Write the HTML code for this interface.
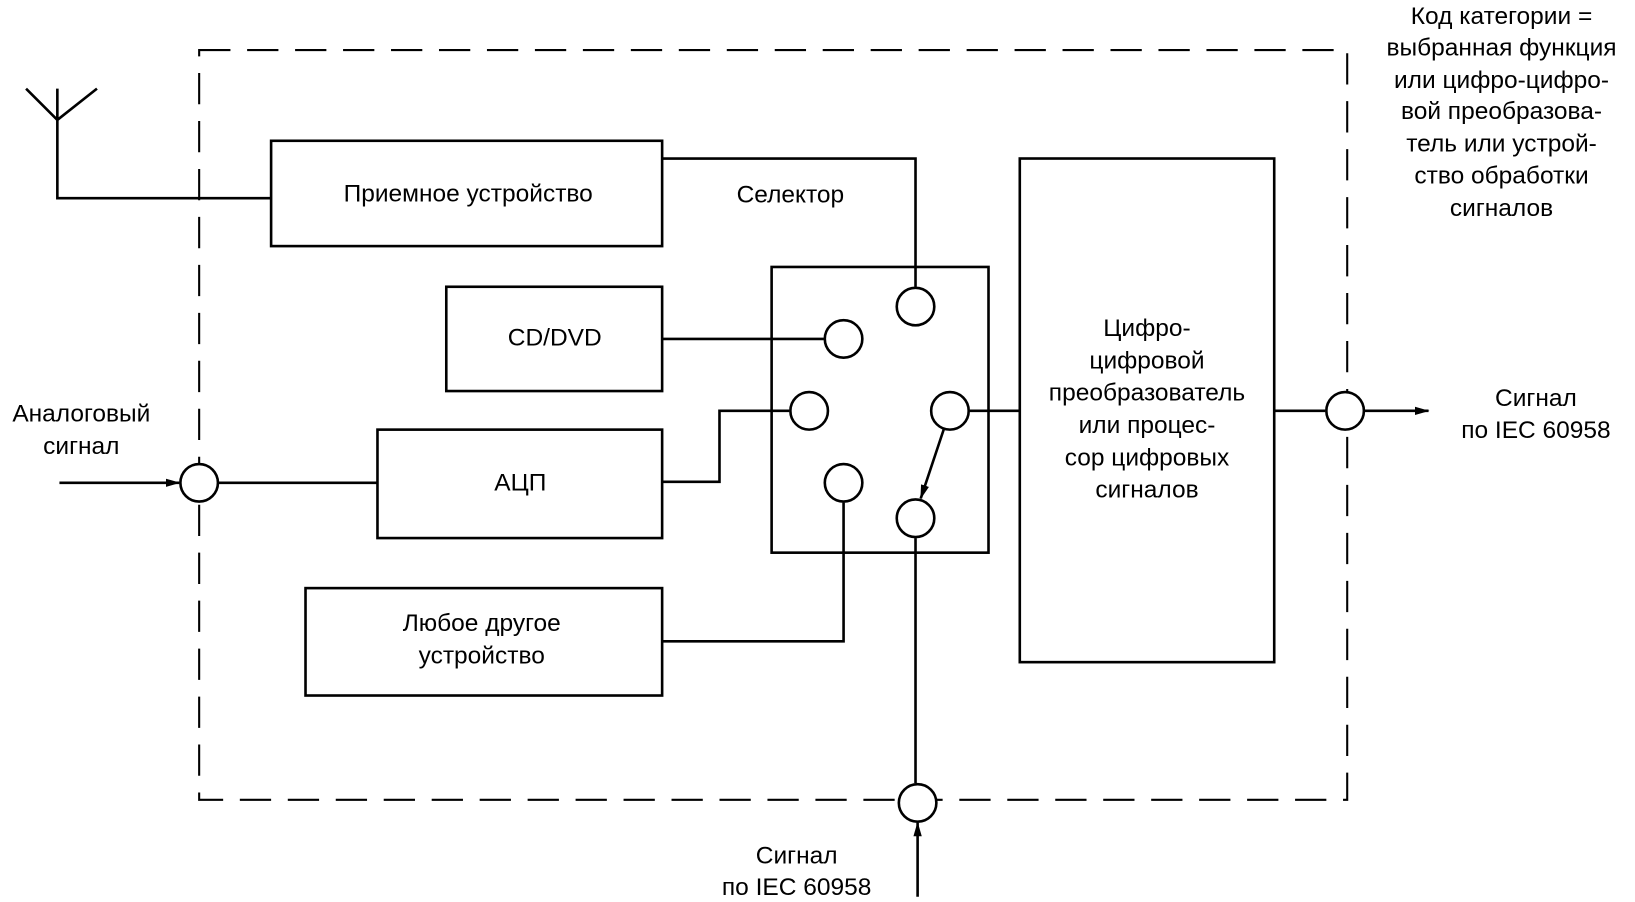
<!DOCTYPE html>
<html><head><meta charset="utf-8"><style>
html,body{margin:0;padding:0;background:#fff;}
svg{display:block;}
text{font-family:"Liberation Sans",sans-serif;font-size:23.5px;fill:#000;text-anchor:middle;dominant-baseline:middle;}
</style></head><body>
<svg width="1635" height="902" viewBox="0 0 1568 865" xmlns="http://www.w3.org/2000/svg">
<defs><marker id="a" markerWidth="14" markerHeight="10" refX="13" refY="5" orient="auto" markerUnits="userSpaceOnUse"><path d="M0,1 L14,5 L0,9 Z" fill="#000"/></marker></defs>
<g fill="none" stroke="#000" stroke-width="2.5">
<rect x="191" y="48" width="1101" height="719" stroke-dasharray="30,16" stroke-width="2"/>
<path d="M55,85 V190 H260 M55,115 L25,85 M55,115 L93,85"/>
<rect x="260" y="135" width="375" height="101"/>
<rect x="428" y="275" width="207" height="100"/>
<rect x="362" y="412" width="273" height="104"/>
<rect x="293" y="564" width="342" height="103"/>
<rect x="740" y="256" width="208" height="274"/>
<rect x="978" y="152" width="244" height="483"/>
<path d="M635,152 H878 V275"/>
<path d="M635,325 H790"/>
<path d="M635,462 H690 V394 H757"/>
<path d="M635,615 H809 V482"/>
<path d="M210,463 H362"/>
<path d="M930,394 H978"/>
<path d="M1222,394 H1271"/>
<path d="M878,516 V751"/>
<path d="M57,463 H172" marker-end="url(#a)"/>
<path d="M1309,394 H1370" marker-end="url(#a)"/>
<path d="M880,860 V789" marker-end="url(#a)"/>
<path d="M905,412 L883,478" marker-end="url(#a)"/>
</g>
<g fill="#fff" stroke="#000" stroke-width="2.5">
<circle cx="878" cy="294" r="18"/>
<circle cx="809" cy="325" r="18"/>
<circle cx="776" cy="394" r="18"/>
<circle cx="911" cy="394" r="18"/>
<circle cx="809" cy="463" r="18"/>
<circle cx="878" cy="497" r="18"/>
<circle cx="191" cy="463" r="18"/>
<circle cx="1290" cy="394" r="18"/>
<circle cx="880" cy="770" r="18"/>
</g>
<text x="449" y="187">Приемное устройство</text>
<text x="758" y="188">Селектор</text>
<text x="532" y="325">CD/DVD</text>
<text x="499" y="464">АЦП</text>
<text x="462" y="599">Любое другое</text>
<text x="462" y="630">устройство</text>
<text x="78" y="398">Аналоговый</text>
<text x="78" y="429">сигнал</text>
<text x="1100" y="316">Цифро-</text>
<text x="1100" y="347">цифровой</text>
<text x="1100" y="378">преобразователь</text>
<text x="1100" y="409">или процес-</text>
<text x="1100" y="440">сор цифровых</text>
<text x="1100" y="471">сигналов</text>
<text x="1473" y="383">Сигнал</text>
<text x="1473" y="414">по IEC 60958</text>
<text x="764" y="822">Сигнал</text>
<text x="764" y="852">по IEC 60958</text>
<text x="1440" y="17">Код категории =</text>
<text x="1440" y="47">выбранная функция</text>
<text x="1440" y="78">или цифро-цифро-</text>
<text x="1440" y="108">вой преобразова-</text>
<text x="1440" y="139">тель или устрой-</text>
<text x="1440" y="170">ство обработки</text>
<text x="1440" y="201">сигналов</text>
</svg>
</body></html>
